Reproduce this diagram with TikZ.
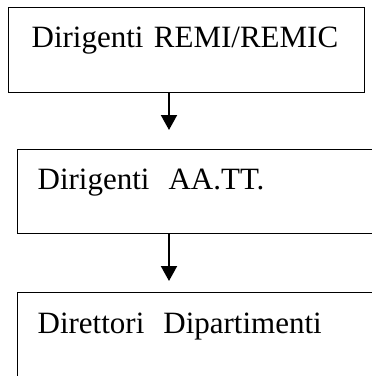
\documentclass[tikz,border=0pt]{standalone}
\usepackage{fontspec}
\setmainfont{Liberation Serif}
\usetikzlibrary{arrows.meta}
\begin{document}
\begin{tikzpicture}[x=1pt,y=-1pt,
  box/.style={draw, line width=1.3pt, anchor=north west, inner sep=0pt, align=left,
    font=\fontsize{31}{36}\selectfont},
  arr/.style={line width=2pt, -{Triangle[width=16pt,length=15pt]}}]
\useasboundingbox (0,0) rectangle (372,376);
\clip (0,0) rectangle (372,376);
\node[box, inner xsep=23pt, text width=310pt, text height=40pt, text depth=45pt] (b1) at (8,7) {Dirigenti REMI/REMIC};
\node[box, inner xsep=20pt, text width=360pt, text height=40pt, text depth=44pt] (b2) at (17,149) {Dirigenti\hspace{19pt}AA.TT.};
\node[box, inner xsep=20pt, text width=360pt, text height=41pt, text depth=60pt] (b3) at (17,292) {Direttori\hspace{19pt}Dipartimenti};
\draw[arr] ([xshift=161pt]b1.south west) -- ([xshift=152pt,yshift=19pt]b2.north west);
\draw[arr] ([xshift=152pt]b2.south west) -- ([xshift=152pt,yshift=11pt]b3.north west);
\end{tikzpicture}
\end{document}
